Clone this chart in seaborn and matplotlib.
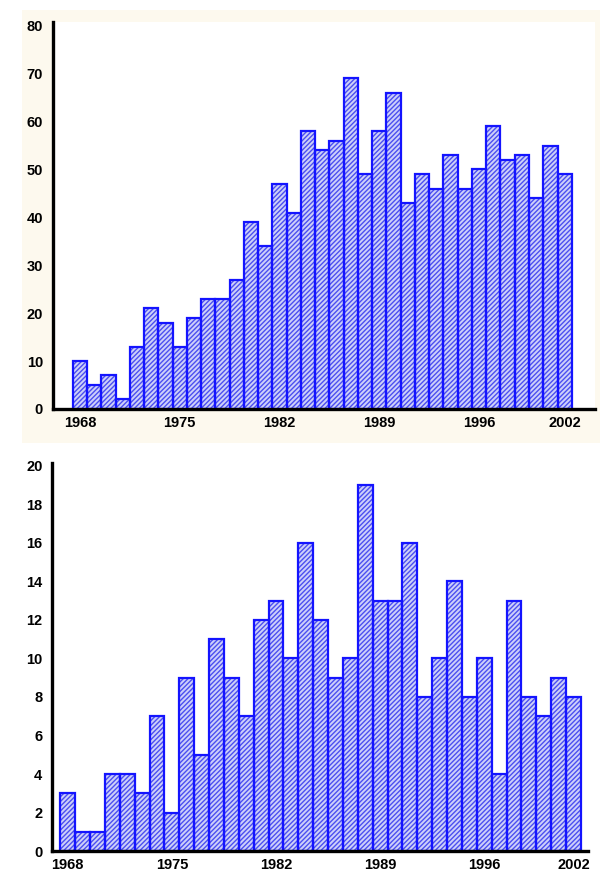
# two hatched bar charts, yearly counts 1968-2002
import numpy as np
import pandas as pd
import matplotlib
matplotlib.use('Agg')
import matplotlib.pyplot as plt
import seaborn as sns
from matplotlib.patches import Rectangle

# data
years = list(range(1968, 2003))
top_counts = [10, 5, 7, 2, 13, 21, 18, 13, 19, 23, 23, 27, 39, 34, 47, 41, 58, 54,
              56, 69, 49, 58, 66, 43, 49, 46, 53, 46, 50, 59, 52, 53, 44, 55, 49]
bottom_counts = [3, 1, 1, 4, 4, 3, 7, 2, 9, 5, 11, 9, 7, 12, 13, 10, 16, 12,
                 9, 10, 19, 13, 13, 16, 8, 10, 14, 8, 10, 4, 13, 8, 7, 9, 8]
tick_years = [1968, 1975, 1982, 1989, 1996, 2002]
top_yticks = [0, 10, 20, 30, 40, 50, 60, 70, 80]
bottom_yticks = [0, 2, 4, 6, 8, 10, 12, 14, 16, 18, 20]

df_top = pd.DataFrame({'year': years, 'count': top_counts})
df_bottom = pd.DataFrame({'year': years, 'count': bottom_counts})

sns.set_theme(style='white')
plt.rcParams['font.family'] = ['Liberation Sans', 'DejaVu Sans']
plt.rcParams['hatch.linewidth'] = 1.0

fig = plt.figure(figsize=(6, 8.82), dpi=100)
fig.patch.set_facecolor('white')

# beige frame behind the upper chart
fig.patches.append(Rectangle((0.037, 0.498), 0.963, 0.491, transform=fig.transFigure,
                             facecolor='#fdf9ee', edgecolor='none', zorder=-5))

ax1 = fig.add_axes([0.088, 0.5363, 0.903, 0.4388])
ax2 = fig.add_axes([0.087, 0.0351, 0.893, 0.44])
ax1.set_zorder(1)
ax2.set_zorder(1)

blue = '#1414ff'
hatch_blue = '#4c4ff0'


def draw(ax, df, yticks, ylim, xlim):
    sns.barplot(data=df, x='year', y='count', ax=ax, width=1.0, errorbar=None,
                color='#cdd0fa', edgecolor=hatch_blue, linewidth=0, hatch='///////',
                saturation=1)
    sns.barplot(data=df, x='year', y='count', ax=ax, width=1.0, errorbar=None,
                color=blue, fill=False, linewidth=1.6, saturation=1)
    ax.set_facecolor('white')
    ax.set_xlim(*xlim)
    ax.set_ylim(*ylim)
    ax.set_yticks(yticks)
    ax.set_yticklabels([str(v) for v in yticks], fontsize=10.5, fontweight='bold')
    pos = [years.index(y) for y in tick_years]
    ax.set_xticks(pos)
    ax.set_xticklabels([str(y) for y in tick_years], fontsize=10.5, fontweight='bold')
    ax.set_xlabel('')
    ax.set_ylabel('')
    for s in ['top', 'right']:
        ax.spines[s].set_visible(False)
    for s in ['left', 'bottom']:
        ax.spines[s].set_visible(True)
        ax.spines[s].set_color('black')
        ax.spines[s].set_linewidth(2.4)
    ax.tick_params(axis='both', length=0, colors='black')
    ax.tick_params(axis='y', pad=7)
    ax.tick_params(axis='x', pad=5)


draw(ax1, df_top, top_yticks, (0, 80.8), (-1.9, 36.1))
draw(ax2, df_bottom, bottom_yticks, (0, 20.15), (-1.04, 34.97))

fig.savefig('out.png', dpi=100, facecolor=fig.get_facecolor())
